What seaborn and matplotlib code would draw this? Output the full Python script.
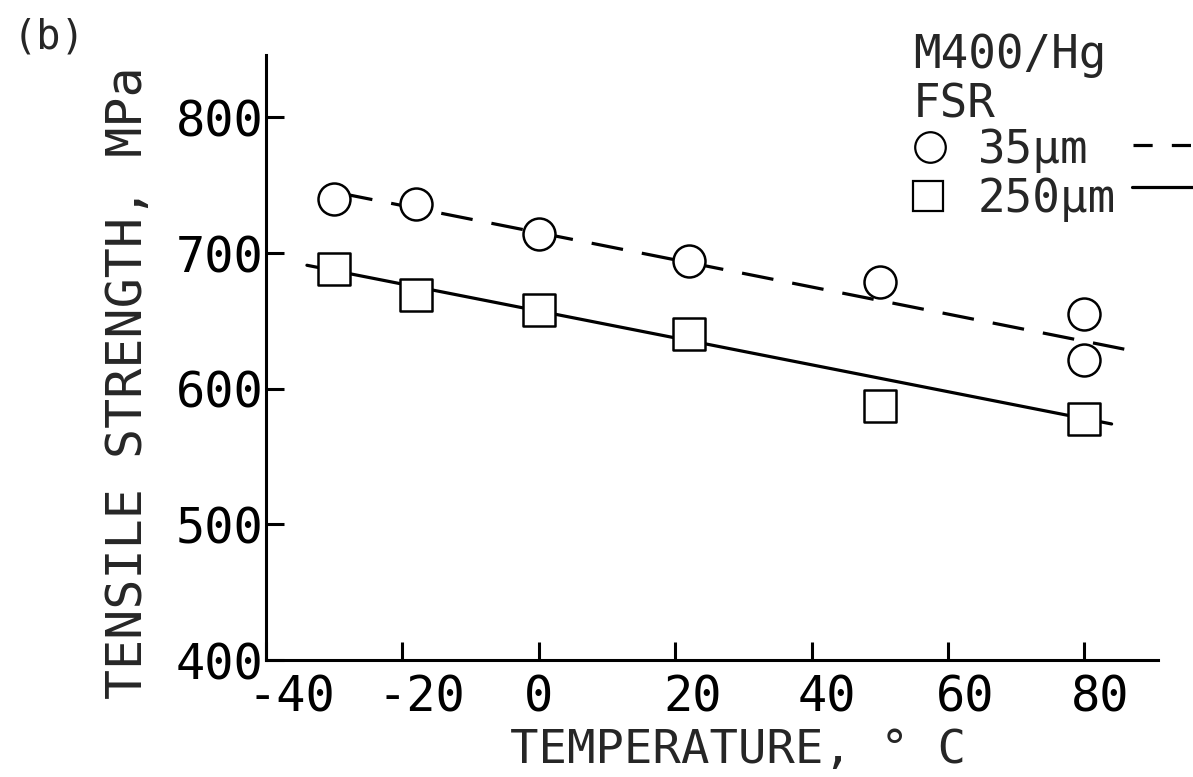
import matplotlib
matplotlib.use("Agg")
import matplotlib.pyplot as plt
from matplotlib.lines import Line2D
from matplotlib.transforms import ScaledTranslation
import pandas as pd
import seaborn as sns

# Tensile strength of M400/Hg vs temperature, two surface roughness levels
temp_35 = [-30, -18, 0, 22, 50, 80, 80]
strength_35 = [740, 736, 714, 694, 679, 655, 621]
temp_250 = [-30, -18, 0, 22, 50, 80]
strength_250 = [688, 669, 658, 640, 587, 578]

# fitted trend lines (end points)
fit_35_temp = [-29, 86]
fit_35_strength = [744, 629]
fit_250_temp = [-34, 84]
fit_250_strength = [691, 574]

x_ticks = [-40, -20, 0, 20, 40, 60, 80]
y_ticks = [400, 500, 600, 700, 800]

sns.set_style("ticks")
plt.rcParams["font.family"] = ["DejaVu Sans Mono"]

W, H = 1193, 777
fig = plt.figure(figsize=(W / 100, H / 100), dpi=100)
ax = fig.add_axes([266 / W, 1 - 660 / H, (1158 - 266) / W, (660 - 55) / H])

df35 = pd.DataFrame({"T": temp_35, "S": strength_35})
df250 = pd.DataFrame({"T": temp_250, "S": strength_250})

sns.lineplot(x=fit_35_temp, y=fit_35_strength, ax=ax, color="black",
             lw=2.3, linestyle=(0, (10, 6)), zorder=2)
sns.lineplot(x=fit_250_temp, y=fit_250_strength, ax=ax, color="black",
             lw=2.3, zorder=2)

sns.scatterplot(data=df35, x="T", y="S", ax=ax, marker="o", s=530,
                color="white", edgecolor="black", linewidth=1.8, zorder=3)
sns.scatterplot(data=df250, x="T", y="S", ax=ax, marker="s", s=530,
                color="white", edgecolor="black", linewidth=1.8, zorder=3)

ax.set_xlim(-40, 90.8)
ax.set_ylim(400, 846)
ax.set_xticks(x_ticks)
ax.set_yticks(y_ticks)
ax.set_xticklabels([f"{v:d}" for v in x_ticks])
ax.set_yticklabels([f"{v:d}" for v in y_ticks])

for side in ("top", "right"):
    ax.spines[side].set_visible(False)
for side in ("left", "bottom"):
    ax.spines[side].set_linewidth(2.2)
    ax.spines[side].set_color("black")

ax.tick_params(axis="both", direction="in", length=13, width=2.2,
               colors="black", labelsize=35)
ax.tick_params(axis="x", pad=10)
ax.tick_params(axis="y", pad=2)

# plotter-style label offsets along the temperature axis
x_shift = {-40: 25, -20: 19, 0: 0, 20: 17, 40: 15, 60: 17, 80: 16}
for lab, v in zip(ax.get_xticklabels(), x_ticks):
    lab.set_transform(lab.get_transform() +
                      ScaledTranslation(x_shift[v] / 100, 0, fig.dpi_scale_trans))

ax.set_xlabel("TEMPERATURE, ° C", fontsize=34)
ax.set_ylabel("TENSILE STRENGTH, MPa", fontsize=36)
ax.xaxis.set_label_coords(0.529, -0.112)
ax.yaxis.set_label_coords(-0.128, 0.458)

fig.text(13 / W, 1 - 49 / H, "(b)", fontsize=29, ha="left", va="baseline")

# key in the upper right corner
def fx(px):
    return px / W

def fy(py):
    return 1 - py / H

fig.text(fx(913), fy(68), "M400/Hg", fontsize=33, ha="left", va="baseline")
fig.text(fx(913), fy(118), "FSR", fontsize=33, ha="left", va="baseline")
fig.text(fx(978), fy(163), "35µm", fontsize=33, ha="left", va="baseline")
fig.text(fx(978), fy(212), "250µm", fontsize=33, ha="left", va="baseline")
fig.add_artist(Line2D([fx(930)], [fy(147)], marker="o", markersize=22,
                      markerfacecolor="white", markeredgecolor="black",
                      markeredgewidth=1.6, linestyle="none",
                      transform=fig.transFigure))
fig.add_artist(Line2D([fx(928)], [fy(196)], marker="s", markersize=22,
                      markerfacecolor="white", markeredgecolor="black",
                      markeredgewidth=1.6, linestyle="none",
                      transform=fig.transFigure))
fig.add_artist(Line2D([fx(1133), fx(1193)], [fy(145), fy(145)], color="black",
                      lw=2.3, linestyle=(0, (6, 6)), transform=fig.transFigure))
fig.add_artist(Line2D([fx(1132), fx(1193)], [fy(187), fy(187)], color="black",
                      lw=2.3, transform=fig.transFigure))

fig.savefig("out.png", dpi=100, facecolor="white")
